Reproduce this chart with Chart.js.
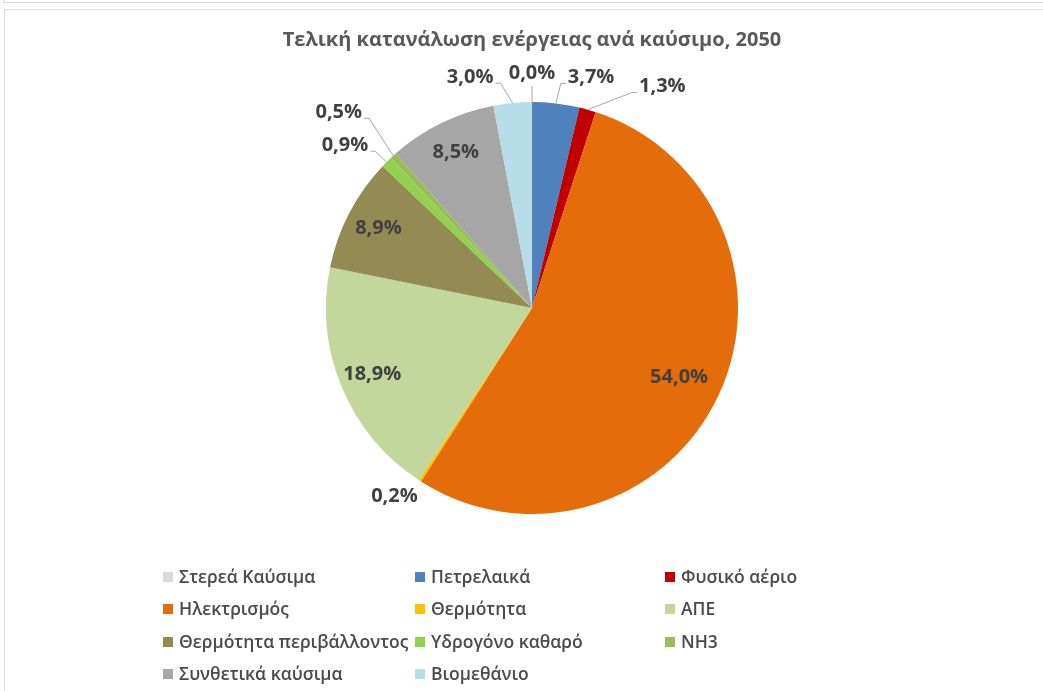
<!DOCTYPE html>
<html>
<head>
<meta charset="utf-8">
<script src="https://cdn.jsdelivr.net/npm/chart.js@4"></script>
<style>
  html, body { margin: 0; padding: 0; background: #fff; overflow: hidden; }
  body { width: 1043px; height: 691px; position: relative; font-family: "Open Sans", sans-serif; }
  .frame-top { position: absolute; left: 3px; top: -10px; width: 1100px; height: 11px; border: 1px solid #d9d9d9; }
  .frame { position: absolute; left: 4px; top: 9px; width: 1100px; height: 800px; border: 1px solid #d9d9d9; }
  #wrap { position: absolute; left: 0; top: 0; width: 1043px; height: 691px; }
  .leg { position: absolute; font-size: 17.5px; font-weight: 600; color: #4a4a4a; white-space: nowrap; line-height: 20px; }
  .leg i { display: inline-block; width: 10px; height: 10px; margin-right: 6px; vertical-align: 1px; }
</style>
</head>
<body>
<div class="frame-top"></div>
<div class="frame"></div>
<div id="wrap"><canvas id="pieChart" width="1043" height="691"></canvas></div>
<div id="legend"></div>
<script>
// Data
const fuels = ['Στερεά Καύσιμα', 'Πετρελαικά', 'Φυσικό αέριο', 'Ηλεκτρισμός', 'Θερμότητα', 'ΑΠΕ',
    'Θερμότητα περιβάλλοντος', 'Υδρογόνο καθαρό', 'NH3', 'Συνθετικά καύσιμα', 'Βιομεθάνιο'];
const shares = [0.0, 3.7, 1.3, 54.0, 0.2, 18.9, 8.9, 0.9, 0.5, 8.5, 3.0];
const colors = ['#d9d9d9', '#4f81bd', '#c00000', '#e46c0a', '#ffc000', '#c3d69b',
    '#948a54', '#92d050', '#9bbb59', '#a6a6a6', '#b7dde8'];

// outside label nudges (angle shift in degrees, distance from centre in px)
const outside = {
    0: { da: 0, dist: 235, line: true },
    1: { da: 7.7, dist: 238, line: true },
    2: { da: 14.8, dist: 257, line: true },
    4: { da: 3.2, dist: 233, line: false },
    7: { da: -4.1, dist: 248, line: true },
    8: { da: -2.3, dist: 275, line: true },
    10: { da: -9.6, dist: 239, line: true }
};

const fmt = v => v.toFixed(1).replace('.', ',') + '%';

const labelPlugin = {
    id: 'sliceLabels',
    afterDatasetsDraw(chart) {
        const ctx = chart.ctx;
        const meta = chart.getDatasetMeta(0);
        ctx.save();
        ctx.font = 'bold 20px "Open Sans"';
        ctx.fillStyle = '#404040';
        ctx.textBaseline = 'middle';
        ctx.textAlign = 'center';
        meta.data.forEach((arc, i) => {
            const p = arc.getProps(['x', 'y', 'startAngle', 'endAngle', 'outerRadius'], true);
            const mid = (p.startAngle + p.endAngle) / 2;
            const r = p.outerRadius;
            const txt = fmt(shares[i]);
            const o = outside[i];
            if (!o) {
                // bigger slices get the label a bit further out
                const k = shares[i] > 30 ? 0.79 : 0.84;
                const lx = p.x + Math.cos(mid) * r * k;
                const ly = p.y + Math.sin(mid) * r * k;
                ctx.fillText(txt, lx, ly);
                return;
            }
            const a = mid + o.da * Math.PI / 180;
            const lx = p.x + Math.cos(a) * o.dist;
            const ly = p.y + Math.sin(a) * o.dist;
            ctx.fillText(txt, lx, ly);
            if (!o.line) return;
            const ax = p.x + Math.cos(mid) * r;
            const ay = p.y + Math.sin(mid) * r;
            const w = ctx.measureText(txt).width;
            ctx.strokeStyle = '#a6a6a6';
            ctx.lineWidth = 1;
            ctx.beginPath();
            if (Math.abs(lx - ax) < 6) {
                ctx.moveTo(ax, ay);
                ctx.lineTo(ax, ly + 13);
            } else if (lx > ax) {
                const ex = lx - w / 2 - 2;
                ctx.moveTo(ax, ay);
                ctx.lineTo(ex - 5, ly + 6);
                ctx.lineTo(ex, ly + 6);
            } else {
                const ex = lx + w / 2 + 2;
                ctx.moveTo(ax, ay);
                ctx.lineTo(ex + 5, ly + 6);
                ctx.lineTo(ex, ly + 6);
            }
            ctx.stroke();
        });
        ctx.restore();
    }
};

new Chart(document.getElementById('pieChart'), {
    type: 'pie',
    data: {
        labels: fuels,
        datasets: [{
            data: shares,
            backgroundColor: colors,
            borderWidth: 0
        }]
    },
    options: {
        responsive: false,
        animation: false,
        events: [],
        layout: { padding: { top: 0, bottom: 177, left: 21, right: 0 } },
        plugins: {
            legend: { display: false },
            tooltip: { enabled: false },
            title: {
                display: true,
                text: 'Τελική κατανάλωση ενέργειας ανά καύσιμο, 2050',
                color: '#595959',
                font: { family: '"Open Sans"', size: 20, weight: 'bold', lineHeight: 1.2 },
                padding: { top: 28, bottom: 50 }
            }
        }
    },
    plugins: [labelPlugin]
});

// legend in three columns
const legCols = [163, 415, 665];
const legend = document.getElementById('legend');
fuels.forEach((name, i) => {
    const d = document.createElement('div');
    d.className = 'leg';
    d.style.left = legCols[i % 3] + 'px';
    d.style.top = (566 + Math.floor(i / 3) * 32.3) + 'px';
    d.innerHTML = '<i style="background:' + colors[i] + '"></i>' + name;
    legend.appendChild(d);
});
</script>
</body>
</html>
